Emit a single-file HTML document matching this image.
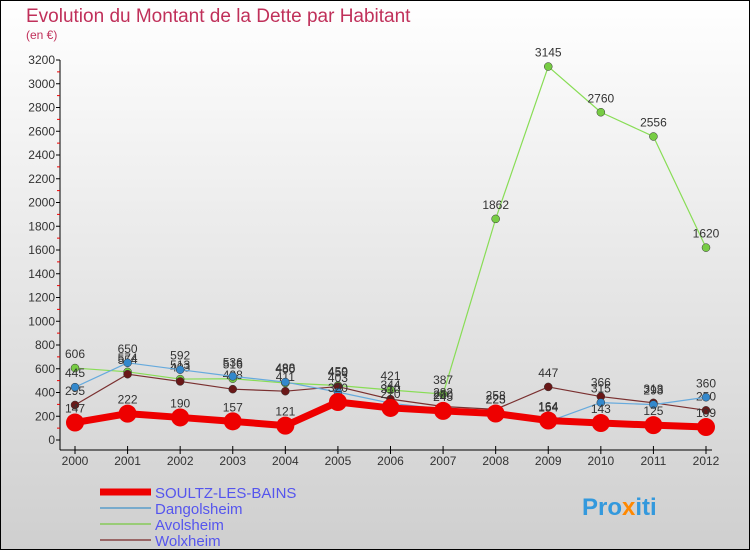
<!DOCTYPE html>
<html><head><meta charset="utf-8"><style>
body{margin:0;width:750px;height:550px;overflow:hidden;font-family:"Liberation Sans",sans-serif}
svg{display:block}
</style></head><body>
<svg id="c" width="750" height="550" xmlns="http://www.w3.org/2000/svg">
<defs><linearGradient id="bg" x1="0" y1="0" x2="0" y2="1"><stop offset="0" stop-color="#ffffff"/><stop offset="1" stop-color="#cfcfcf"/></linearGradient></defs>
<rect x="0.5" y="0.5" width="749" height="549" fill="url(#bg)" stroke="#000"/>
<text x="26" y="22" font-size="19" fill="#c0305a">Evolution du Montant de la Dette par Habitant</text>
<text x="26" y="39" font-size="12" fill="#c0305a">(en €)</text>
<g id="axes"></g><g id="series"></g><g id="legend"></g>
<text x="582" y="515" font-size="24" font-weight="bold" fill="#3399dd">Pro<tspan fill="#ff8800">x</tspan>iti</text>
</svg>
<script>
const years=[2000,2001,2002,2003,2004,2005,2006,2007,2008,2009,2010,2011,2012];
const yTicks=[0,200,400,600,800,1000,1200,1400,1600,1800,2000,2200,2400,2600,2800,3000,3200];
const soultz=[147,222,190,157,121,320,270,245,223,164,143,125,109];
const dangolsheim=[445,650,592,536,488,403,310,260,225,154,315,298,360];
const avolsheim=[606,574,513,516,480,459,421,387,1862,3145,2760,2556,1620];
const wolxheim=[295,554,493,428,411,450,344,282,258,447,366,313,250];
const names=["SOULTZ-LES-BAINS","Dangolsheim","Avolsheim","Wolxheim"];
const NS="http://www.w3.org/2000/svg";
const X=i=>75+i*(706-75)/(years.length-1);
const Y=v=>440-v*(380/3200);
function mk(t,a,p){const e=document.createElementNS(NS,t);for(const k in a)e.setAttribute(k,a[k]);p.appendChild(e);return e;}
const ax=document.getElementById('axes');
let yl=mk('line',{x1:60,y1:60,x2:60,y2:450,stroke:'#000'},ax);


let xl=mk('line',{x1:60,y1:450,x2:712,y2:450,stroke:'#000'},ax);


yTicks.forEach(v=>{
 mk('line',{x1:56,y1:Y(v),x2:60,y2:Y(v),stroke:'#000'},ax);
 if(v<3200)mk('line',{x1:57,y1:Y(v+100),x2:60,y2:Y(v+100),stroke:'#e00'},ax);
 const t=mk('text',{x:55,y:Y(v)+4,'font-size':12,fill:'#333','text-anchor':'end'},ax);t.textContent=v;
 
 
});
years.forEach((y,i)=>{
 mk('line',{x1:X(i),y1:446,x2:X(i),y2:454,stroke:'#000'},ax);
 const t=mk('text',{x:X(i),y:465,'font-size':12,fill:'#333','text-anchor':'middle'},ax);t.textContent=y;
 
 
});
const sg=document.getElementById('series');
const defs=[[avolsheim,'#88dd55','#77cc44',1.2,4],[wolxheim,'#7a3030','#6a1818',1.2,4],[dangolsheim,'#66aadd','#3388cc',1.2,4],[soultz,'#ee0000','#ee0000',7,9]];
const snames=['avolsheim','wolxheim','dangolsheim','soultz-les-bains'];
defs.forEach((d,k)=>{
 const g=mk('g',{},sg);
 
 
 const pl=mk('polyline',{points:d[0].map((v,i)=>X(i)+','+Y(v)).join(' '),fill:'none',stroke:d[1],'stroke-width':d[3],'stroke-linejoin':'round'},g);
 
 
 d[0].forEach((v,i)=>{
  const c=mk('circle',{cx:X(i),cy:Y(v),r:d[4],fill:d[2],stroke:d[3]>5?'none':'#333','stroke-width':0.5},g);
  
  
  const t=mk('text',{x:X(i),y:Y(v)-10,'font-size':12,fill:'#333','text-anchor':'middle'},g);t.textContent=v;
  
  
 });
});
const lg=document.getElementById('legend');
const lc=[['#ee0000',7],['#77aacc',2],['#99cc77',2],['#996666',2]];
names.forEach((n,k)=>{
 const y=492+k*16;
 const l=mk('line',{x1:100,y1:y,x2:151,y2:y,stroke:lc[k][0],'stroke-width':lc[k][1]},lg);
 
 
 const t=mk('text',{x:155,y:y+6,'font-size':15,fill:'#5555ee'},lg);t.textContent=n;
 
 
});
</script>
</body></html>
